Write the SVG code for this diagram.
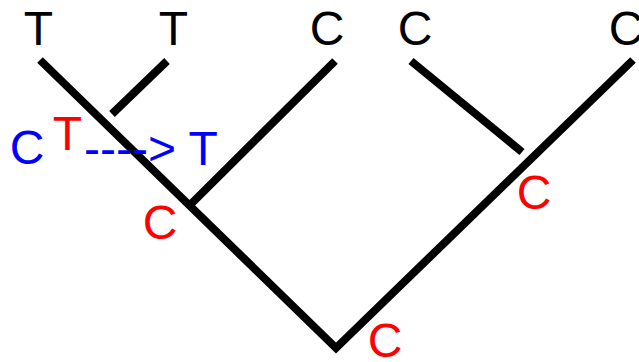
<svg xmlns="http://www.w3.org/2000/svg" width="639" height="362" viewBox="0 0 639 362">
<style>
.e{stroke:#000;stroke-width:8;fill:none;stroke-linecap:butt;stroke-linejoin:miter}
.t{font-family:"Liberation Sans",Arial,sans-serif;font-size:48px;text-anchor:middle}
.k{fill:#000}.r{fill:#ff0000}.b{fill:#0000ff}
</style>
<rect width="639" height="362" fill="#fff"/>
<g id="connectors">
<polyline class="e" points="40,60 336,348 633,60"/>
<line class="e" x1="167" y1="61" x2="112" y2="114"/>
<line class="e" x1="335" y1="61" x2="189" y2="206"/>
<line class="e" x1="411" y1="61" x2="522" y2="152"/>
</g>
<g id="leaf1"><text class="t k" x="38.5" y="45">T</text></g>
<g id="leaf2"><text class="t k" x="173.5" y="45">T</text></g>
<g id="leaf3"><text class="t k" x="327" y="45">C</text></g>
<g id="leaf4"><text class="t k" x="415" y="45">C</text></g>
<g id="leaf5"><text class="t k" x="626" y="45">C</text></g>
<g id="mutation">
<text class="t r" x="67.5" y="150">T</text>
<text class="t b" x="27" y="164">C</text>
<text class="t b" x="84" y="165" style="text-anchor:start">----&gt; T</text>
</g>
<g id="anc1"><text class="t r" x="160" y="239">C</text></g>
<g id="anc2"><text class="t r" x="534" y="209">C</text></g>
<g id="root"><text class="t r" x="385" y="357">C</text></g>
</svg>
